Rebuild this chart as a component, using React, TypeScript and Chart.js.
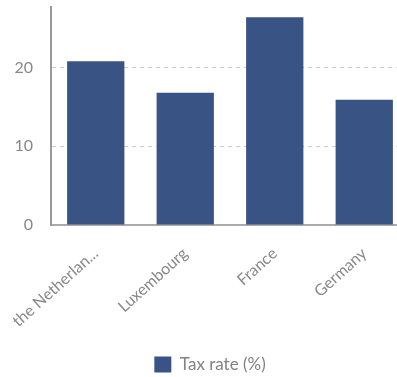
import React, { useEffect, useRef } from "react";
import { Chart, registerables } from "chart.js";

Chart.register(...registerables);

const categories = ["the Netherlands", "Luxembourg", "France", "Germany"];
const taxRate = [20.8, 16.8, 26.4, 15.9];
const seriesLabel = "Tax rate (%)";
const yMax = 27.7;
const yStep = 10;

export default function App() {
  const ref = useRef<HTMLCanvasElement | null>(null);
  useEffect(() => {
    document.body.style.margin = "0";
    document.body.style.overflow = "hidden";
    const chart = new Chart(ref.current as HTMLCanvasElement, {
      type: "bar",
      data: {
        labels: categories,
        datasets: [
          {
            label: seriesLabel,
            data: taxRate,
            backgroundColor: "#3a5385",
            borderWidth: 0,
            barPercentage: 0.8,
            categoryPercentage: 0.8,
          },
        ],
      },
      options: {
        responsive: false,
        animation: false,
        layout: { padding: { top: 7, left: 11, right: 11, bottom: 2 } },
        plugins: {
          legend: {
            position: "bottom",
            labels: {
              boxWidth: 17,
              boxHeight: 16,
              color: "#828282",
              font: { family: "Lato", size: 17 },
              padding: 10,
            },
          },
          tooltip: { enabled: false },
        },
        scales: {
          x: {
            grid: { display: false, drawTicks: false },
            border: { color: "#aaa", width: 2 },
            ticks: {
              color: "#888",
              font: { family: "Lato", size: 16 },
              minRotation: 42,
              maxRotation: 42,
              padding: 19,
              callback: function (this: any, v: any) {
                const s = String(this.getLabelForValue(v));
                return s.length > 13 ? s.substring(0, 13) + "..." : s;
              },
            },
            afterFit: (s: any) => {
              s.height = 121;
              s.paddingLeft = 0;
              s.paddingRight = 0;
            },
          },
          y: {
            min: 0,
            max: yMax,
            grid: {
              color: "#ccc",
              drawTicks: true,
              tickLength: 18,
              tickColor: "rgba(0,0,0,0)",
            },
            border: { color: "#999", width: 2, dash: [4, 4] },
            ticks: {
              stepSize: yStep,
              includeBounds: false,
              color: "#888",
              font: { family: "Lato", size: 16, lineHeight: 0.8 },
              padding: 0,
            },
            afterFit: (s: any) => {
              s.width = 40;
            },
          },
        },
      },
    });
    return () => chart.destroy();
  }, []);
  return (
    <div style={{ position: "fixed", left: 0, top: 0, width: 397, height: 377, overflow: "hidden" }}>
      <canvas ref={ref} width={420} height={385} style={{ display: "block" }} />
    </div>
  );
}
